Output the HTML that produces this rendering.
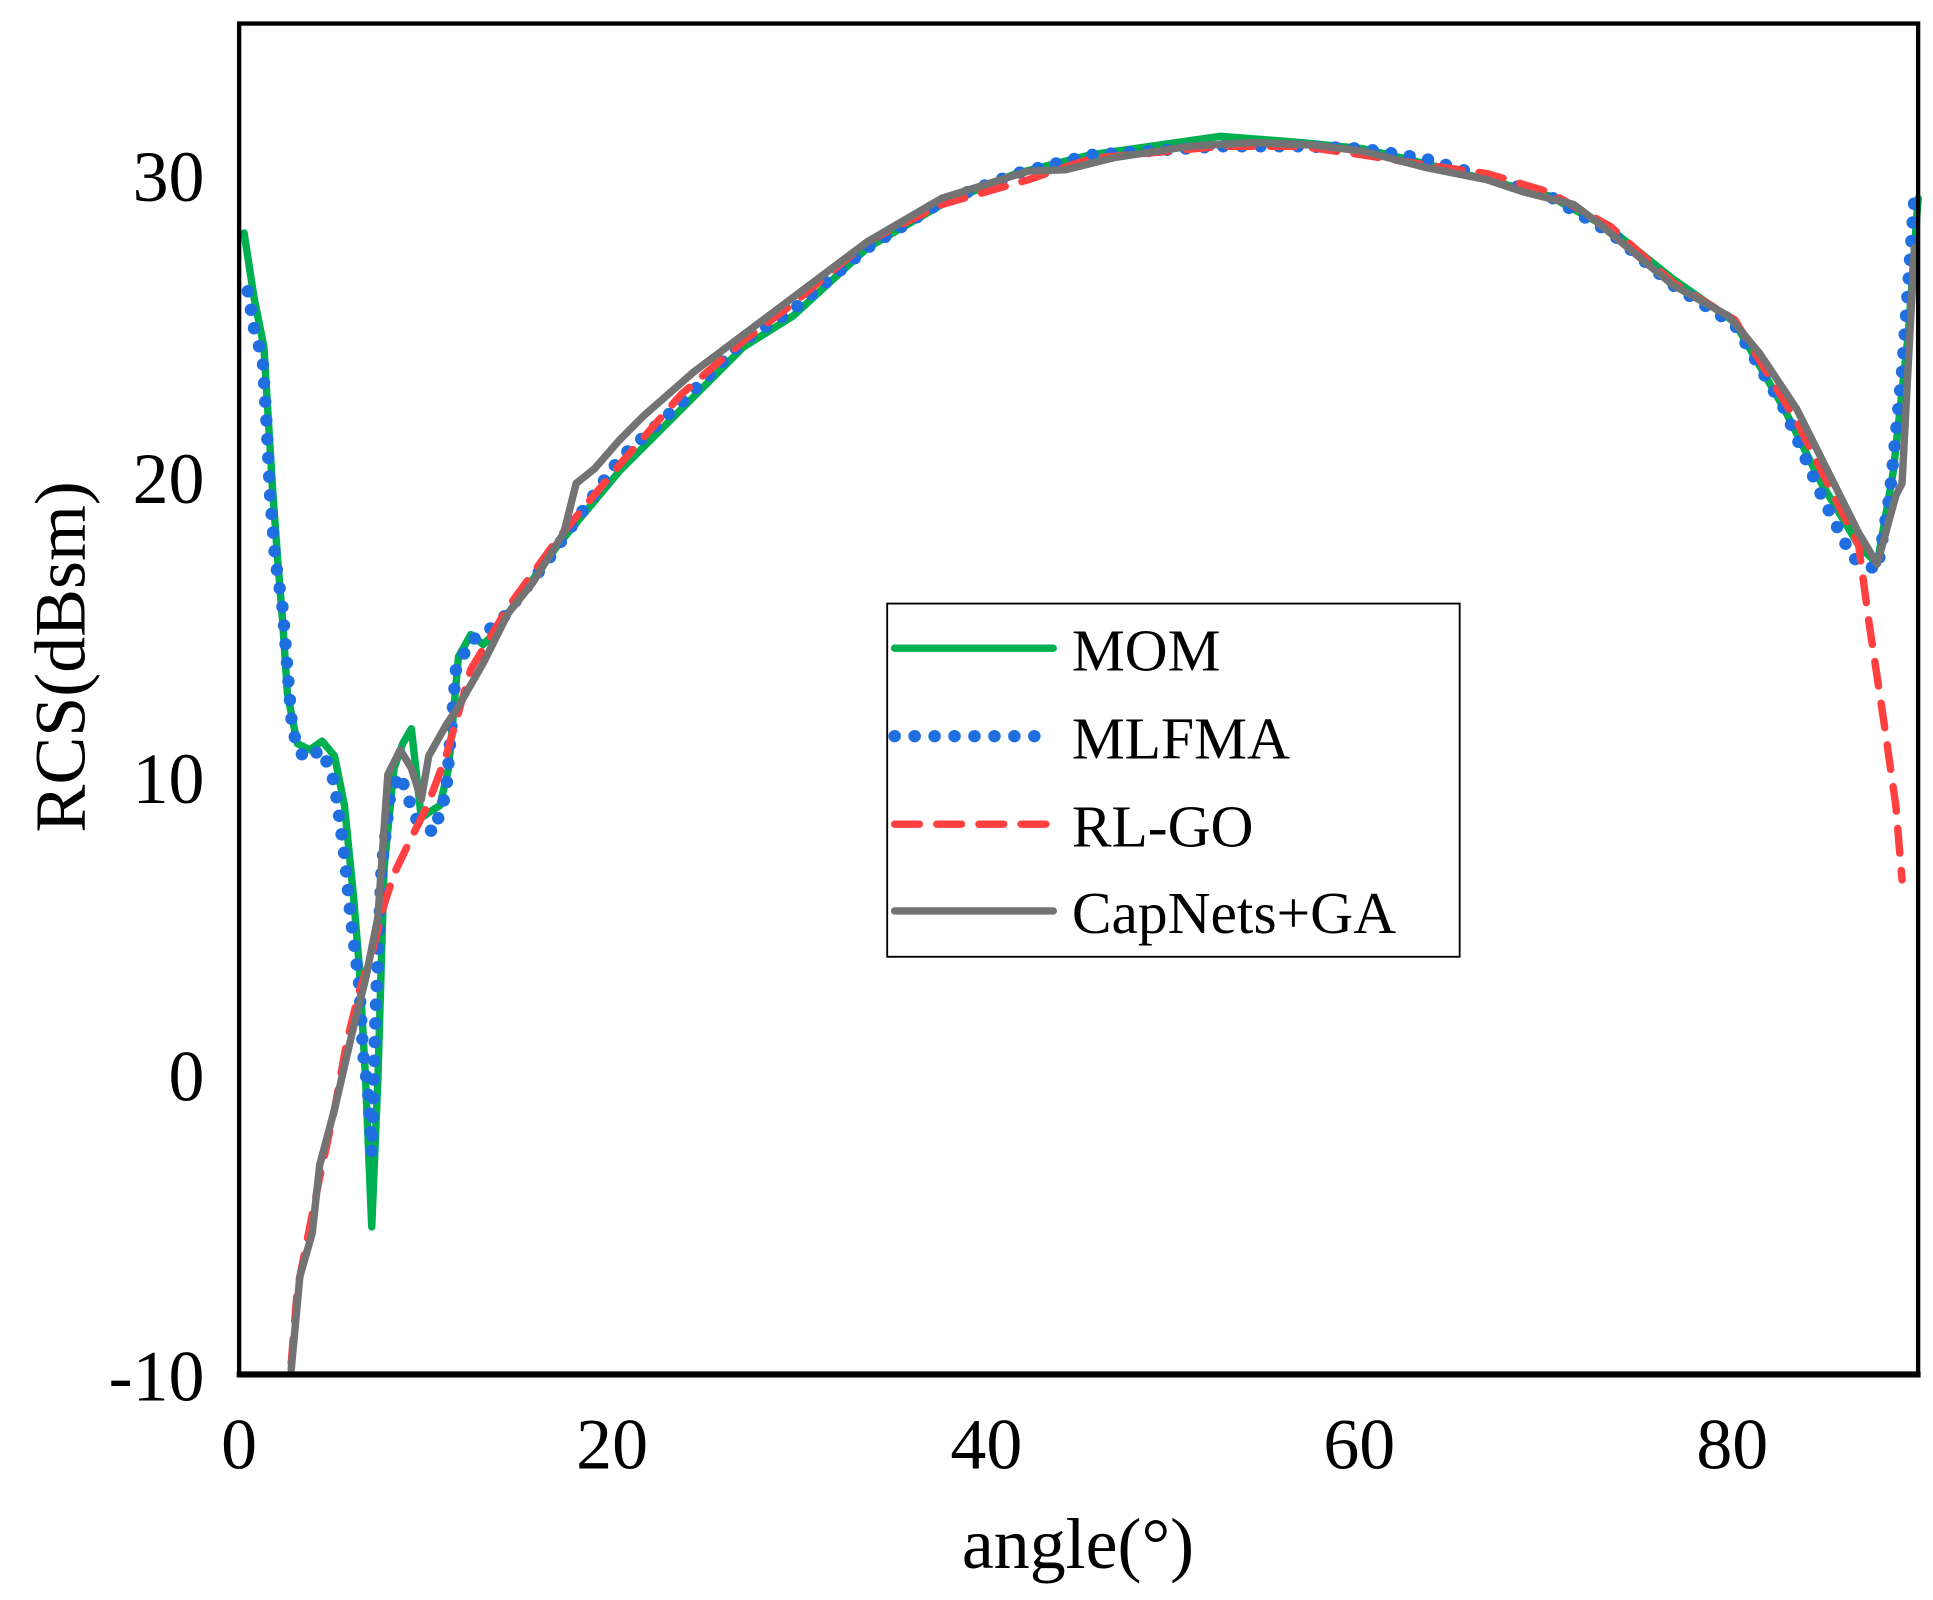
<!DOCTYPE html>
<html><head><style>html,body{margin:0;padding:0;background:#fff}svg{display:block}</style></head>
<body>
<svg width="1933" height="1600" viewBox="0 0 1560 1291" preserveAspectRatio="none" xmlns="http://www.w3.org/2000/svg" font-family="Liberation Serif, serif">
<rect width="1560" height="1291" fill="#fff"/>
<g fill="none" stroke-linejoin="round" stroke-linecap="round">
<polyline stroke="#00b050" stroke-width="6" points="197,188 205,240 213,280 220,395 224,450 228,500 232,560 240,600 250,605 260,598 270,610 278,650 285,720 290,780 295,870 300,990 305,870 310,700 318,620 325,600 332,588 340,660 347,655 355,650 362,620 370,530 380,512 390,520 400,510 410,495 450,440 500,380 550,330 600,280 640,255 700,200 760,165 820,140 880,125 985,110 1050,115 1100,120 1150,132 1200,145 1250,158 1300,185 1350,225 1400,260 1440,330 1470,390 1500,440 1515,455 1528,380 1540,270 1548,160"/>
<polyline stroke="#1f6fe0" stroke-width="10" stroke-dasharray="0.1 15" points="200,235 205,265 212,290 215,340 218,400 222,450 228,490 232,540 236,590 245,612 260,605 270,632 278,690 283,740 290,795 293,850 297,880 300,930 303,820 308,700 315,640 323,625 335,660 350,672 360,640 368,540 380,517 392,510 405,500 420,480 440,455 500,370 550,325 600,275 640,250 700,200 760,163 820,140 880,125 985,118 1050,118 1100,120 1150,128 1200,143 1250,158 1300,188 1350,230 1400,262 1440,330 1470,400 1495,450 1515,460 1525,400 1535,300 1545,160"/>
<polyline stroke="#ff4040" stroke-width="6" stroke-dasharray="20 14" points="235,1100 240,1040 250,990 258,950 270,895 280,840 290,800 300,770 310,730 318,705 330,680 345,650 360,610 380,540 410,490 450,435 500,375 550,318 600,275 640,245 700,195 760,165 830,145 880,128 985,118 1050,118 1100,125 1150,133 1200,140 1250,155 1300,183 1350,228 1400,258 1450,340 1480,400 1500,440 1508,500 1520,580 1530,650 1535,710"/>
<polyline stroke="#737373" stroke-width="6" points="235,1105 242,1030 252,995 258,940 270,895 285,830 295,790 305,740 313,625 323,605 332,620 340,645 346,610 360,585 370,570 390,535 410,495 430,470 455,430 465,390 480,378 500,355 520,335 560,300 600,270 640,240 700,195 760,160 830,138 860,137 900,127 960,118 1010,115 1060,117 1100,122 1150,135 1200,145 1230,155 1270,165 1290,180 1350,230 1395,255 1420,285 1450,330 1480,390 1500,430 1515,455 1530,400 1535,390 1545,200"/>
</g>
<rect x="193" y="19" width="1355" height="1090" fill="none" stroke="#000" stroke-width="3.5"/>
<line x1="191" y1="1109" x2="1550" y2="1109" stroke="#000" stroke-width="5"/>
<g font-size="58" fill="#000">
<text x="165" y="162" text-anchor="end">30</text>
<text x="165" y="406" text-anchor="end">20</text>
<text x="165" y="648" text-anchor="end">10</text>
<text x="165" y="888" text-anchor="end">0</text>
<text x="165" y="1130" text-anchor="end">-10</text>
<text x="193" y="1185" text-anchor="middle">0</text>
<text x="494" y="1185" text-anchor="middle">20</text>
<text x="796" y="1185" text-anchor="middle">40</text>
<text x="1097" y="1185" text-anchor="middle">60</text>
<text x="1398" y="1185" text-anchor="middle">80</text>
<text x="870" y="1265" text-anchor="middle">angle(°)</text>
<text transform="translate(68,530) rotate(-90)" text-anchor="middle">RCS(dBsm)</text>
</g>
<rect x="716" y="487" width="462" height="285" fill="#fff" stroke="#000" stroke-width="1.5"/>
<g fill="none" stroke-width="6" stroke-linecap="round">
<line x1="722" y1="523" x2="850" y2="523" stroke="#00b050"/>
<line x1="722" y1="594" x2="850" y2="594" stroke="#1f6fe0" stroke-width="10" stroke-dasharray="0.1 16"/>
<line x1="722" y1="665" x2="850" y2="665" stroke="#ff4040" stroke-dasharray="20 14"/>
<line x1="722" y1="735" x2="850" y2="735" stroke="#737373"/>
</g>
<g font-size="48" fill="#000">
<text x="865" y="541">MOM</text>
<text x="865" y="612">MLFMA</text>
<text x="865" y="683">RL-GO</text>
<text x="865" y="753">CapNets+GA</text>
</g>
</svg>
</body></html>
